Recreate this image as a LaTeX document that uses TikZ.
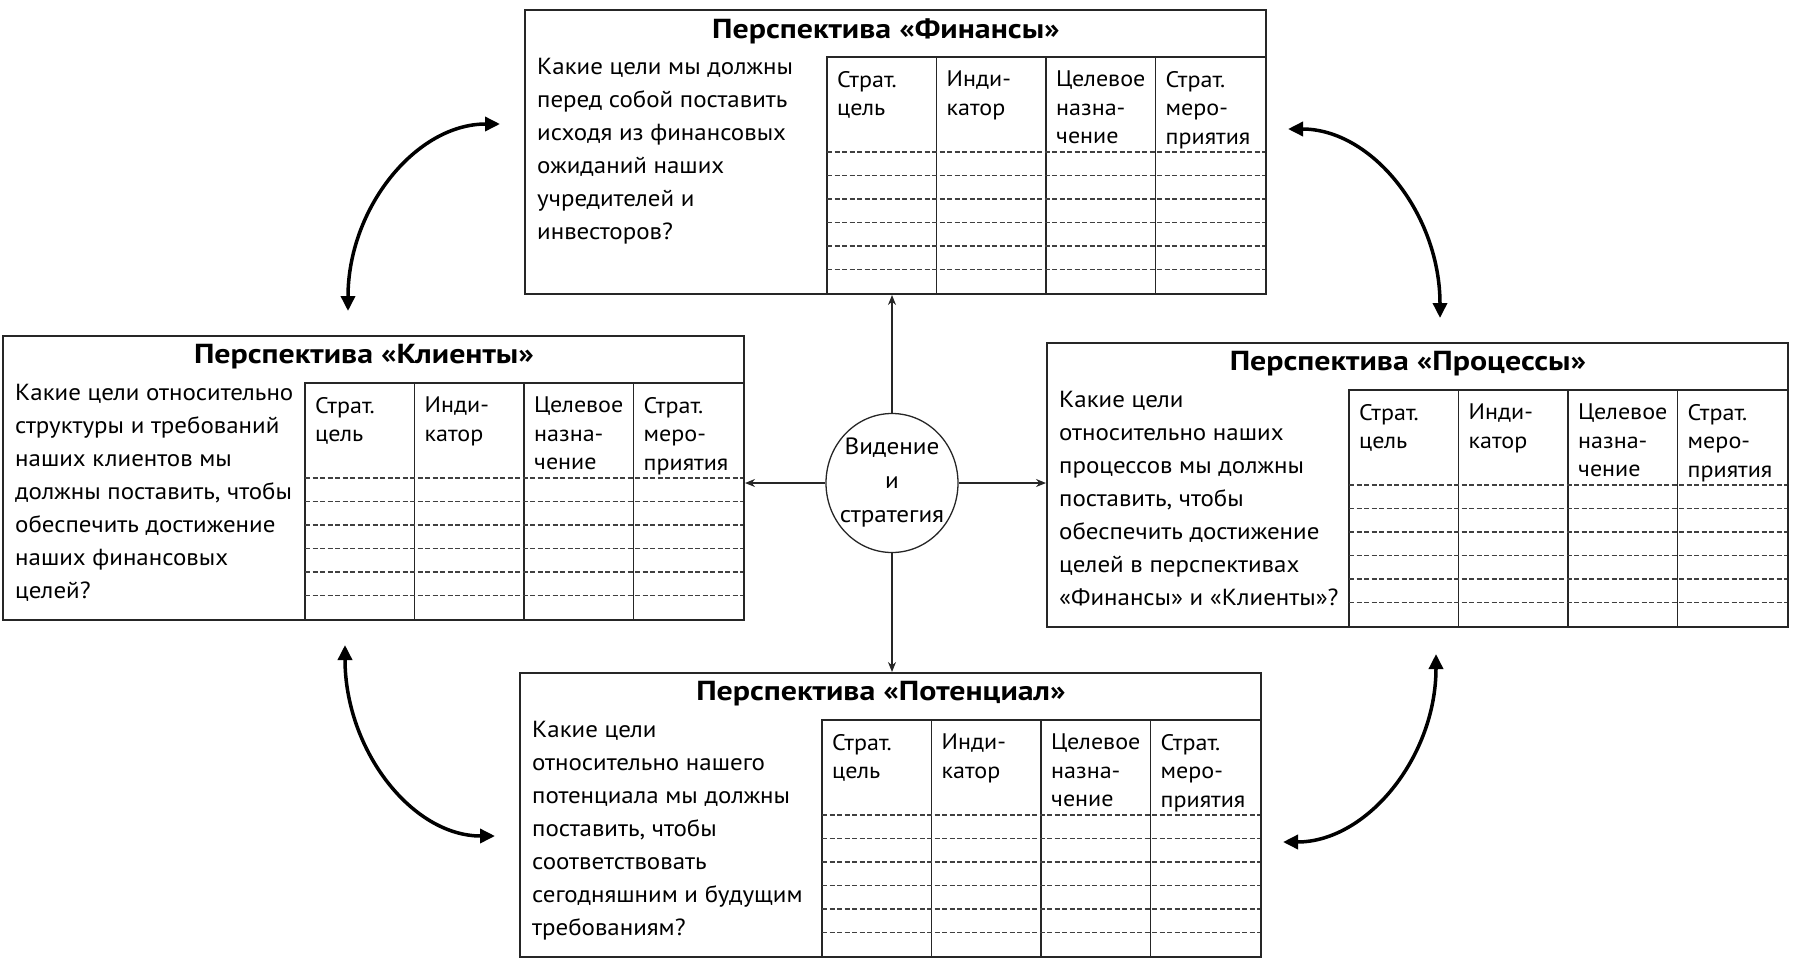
\documentclass[tikz,border=0pt]{standalone}
\usepackage{fontspec}
\setmainfont{PT Sans}[FakeStretch=1.07]
\newfontfamily\ttlfont{PT Sans}[FakeStretch=1.16]
\usetikzlibrary{arrows.meta,shapes.geometric}
\tikzset{
  panel/.style={draw=black!85, line width=2pt, anchor=north west, inner sep=0pt, minimum width=741pt, minimum height=284pt},
  gridline/.style={draw=black!85, line width=1.5pt},
  rowline/.style={draw=black!75, line width=1.1pt, dash pattern=on 5pt off 2.5pt},
  ttl/.style={font=\ttlfont\fontsize{27.5}{30}\selectfont\bfseries, inner sep=0pt},
  qtext/.style={font=\fontsize{23.3}{33}\selectfont, align=left, anchor=north west, inner sep=0pt},
  htext/.style={font=\fontsize{22.5}{28.5}\selectfont, align=left, anchor=north west, inner sep=0pt},
  sarr/.style={draw=black!85, line width=1.3pt, -{Stealth[length=10pt,width=8pt]}},
  barr/.style={line width=3.5pt, {Triangle[length=15pt,width=14pt]}-{Triangle[length=15pt,width=14pt]}},
}
\newcommand\persp[5]{%
\begin{scope}[shift={(#2,#3)}]
\node[panel] (#1) at (0,0) {};
\node[ttl] (#1t) at (362,22) {Перспектива «#4»};
\node[qtext] (#1q) at (13,49) {#5};
\draw[gridline] (303,284) -- (303,48) -- (741,48);
\foreach \cc in {1,2,3} \draw[gridline] (303+109.5*\cc,48) -- (303+109.5*\cc,284);
\foreach \rr in {0,...,5} \draw[rowline] (303,143+23.5*\rr) -- (741,143+23.5*\rr);
\node[htext] (#1h1) at (313,62) {Страт.\\цель};
\node[htext] (#1h2) at (422.5,62) {Инди-\\катор};
\node[htext] (#1h3) at (532,62) {Целевое\\назна-\\чение};
\node[htext] (#1h4) at (641.5,62) {Страт.\\меро-\\приятия};
\end{scope}}
\begin{document}
\begin{tikzpicture}[x=1pt,y=-1pt]
\useasboundingbox (0,0) rectangle (1794,959);
\persp{fin}{524}{9}{Финансы}{Какие цели мы должны\\перед собой поставить\\исходя из финансовых\\ожиданий наших\\учредителей и\\инвесторов?}
\persp{cli}{2}{335}{Клиенты}{Какие цели относительно\\структуры и требований\\наших клиентов мы\\должны поставить, чтобы\\обеспечить достижение\\наших финансовых\\целей?}
\persp{pro}{1046}{342}{Процессы}{Какие цели\\относительно наших\\процессов мы должны\\поставить, чтобы\\обеспечить достижение\\целей в перспективах\\«Финансы» и «Клиенты»?}
\persp{pot}{519}{672}{Потенциал}{Какие цели\\относительно нашего\\потенциала мы должны\\поставить, чтобы\\соответствовать\\сегодняшним и будущим\\требованиям?}
\node[draw=black!85, line width=1.3pt, ellipse, minimum width=132pt, minimum height=139pt, inner xsep=-12pt, inner ysep=0pt,
  font=\fontsize{23.5}{34}\selectfont, align=center] (vis) at (892,483) {Видение\\и\\стратегия};
\draw[sarr] (vis.north) -- (vis.north |- fin.south);
\draw[sarr] (vis.south) -- (vis.south |- pot.north);
\draw[sarr] (vis.west) -- (vis.west -| cli.east);
\draw[sarr] (vis.east) -- (vis.east -| pro.west);
\coordinate (a1) at (500,124); \coordinate (a2) at (348,311);
\coordinate (b1) at (1288,129); \coordinate (b2) at (1440,318);
\coordinate (c1) at (345,645); \coordinate (c2) at (495,836);
\coordinate (d1) at (1436,654); \coordinate (d2) at (1283,842);
\draw[barr] (a1) .. controls (416,124) and (348,208) .. (a2);
\draw[barr] (b1) .. controls (1372,129) and (1440,214) .. (b2);
\draw[barr] (c1) .. controls (345,750) and (412,836) .. (c2);
\draw[barr] (d1) .. controls (1436,757) and (1367,842) .. (d2);
\end{tikzpicture}
\end{document}
